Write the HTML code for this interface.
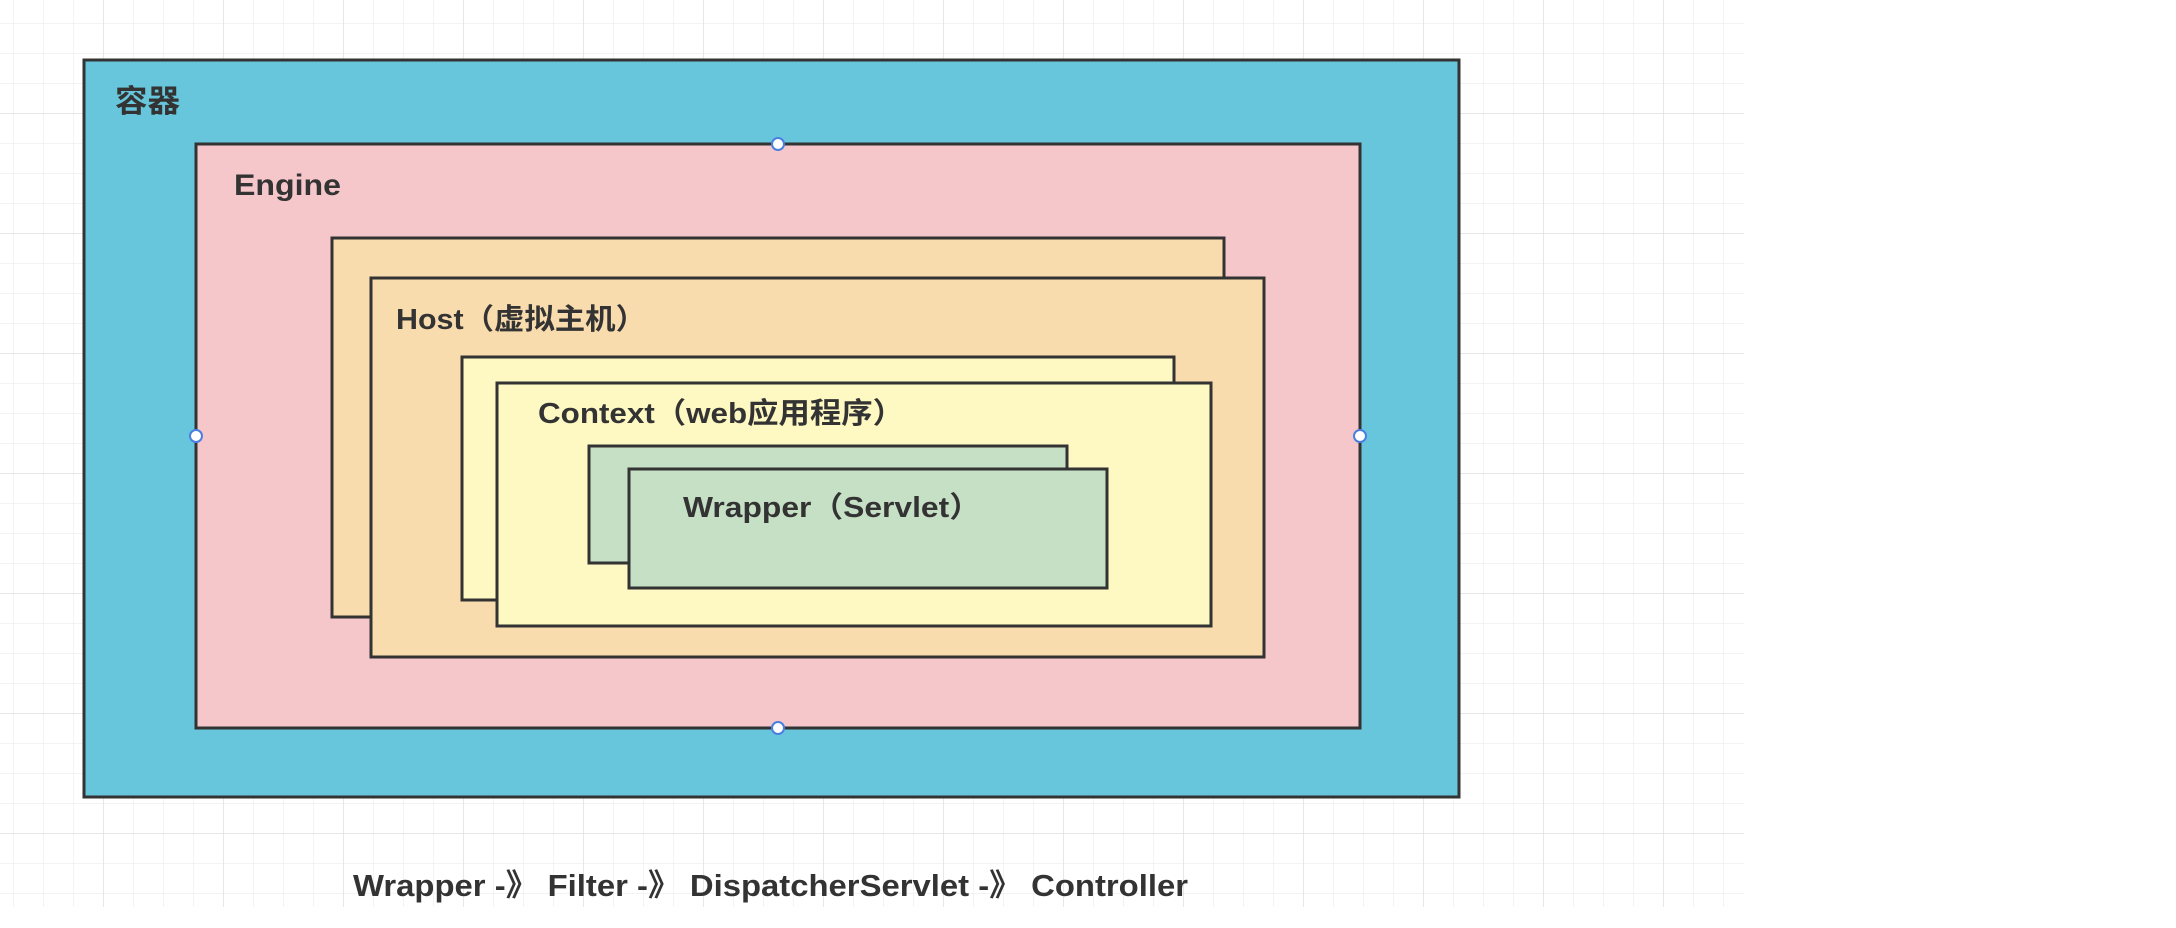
<!DOCTYPE html>
<html><head><meta charset="utf-8"><style>
html,body{margin:0;padding:0;background:#fff;}
svg{display:block;}
text{font-family:"Liberation Sans","Noto Sans CJK SC",sans-serif;font-weight:bold;fill:#333;}
</style></head><body>
<svg width="2176" height="928" viewBox="0 0 2176 928" xmlns="http://www.w3.org/2000/svg">
<defs>
<pattern id="minor" x="13" y="23" width="30" height="30" patternUnits="userSpaceOnUse">
<path d="M0 0V30M0 0H30" stroke="#efefef" stroke-width="1.5" fill="none"/>
</pattern>
<pattern id="major" x="103" y="113" width="120" height="120" patternUnits="userSpaceOnUse">
<path d="M0 0V120M0 0H120" stroke="#e2e2e2" stroke-width="1.5" fill="none"/>
</pattern>
</defs>
<rect x="0" y="0" width="1744" height="907" fill="url(#minor)"/>
<rect x="0" y="0" width="1744" height="907" fill="url(#major)"/>
<g stroke="#333" stroke-width="3">
<rect x="84" y="60" width="1375" height="737" fill="#67c6db"/>
<rect x="196" y="144" width="1164" height="584" fill="#f5c7cb"/>
<rect x="332" y="238" width="892" height="379" fill="#f8dcae"/>
<rect x="371" y="278" width="893" height="379" fill="#f8dcae"/>
<rect x="462" y="357" width="712" height="243" fill="#fef8c2"/>
<rect x="497" y="383" width="714" height="243" fill="#fef8c2"/>
<rect x="589" y="446" width="478" height="117" fill="#c6e0c6"/>
<rect x="629" y="469" width="478" height="119" fill="#c6e0c6"/>
</g>
<g fill="#fff" stroke="#4a7fe0" stroke-width="2">
<circle cx="778" cy="144" r="6"/>
<circle cx="778" cy="728" r="6"/>
<circle cx="196" cy="436" r="6"/>
<circle cx="1360" cy="436" r="6"/>
</g>
<text x="115" y="112" font-size="31" textLength="65" lengthAdjust="spacingAndGlyphs">容器</text>
<text x="234" y="195" font-size="30" textLength="107" lengthAdjust="spacingAndGlyphs">Engine</text>
<text x="396" y="329" font-size="29" textLength="250" lengthAdjust="spacingAndGlyphs">Host（虚拟主机）</text>
<text x="538" y="423" font-size="29" textLength="366" lengthAdjust="spacingAndGlyphs">Context（web应用程序）</text>
<text x="683" y="517" font-size="29" textLength="298" lengthAdjust="spacingAndGlyphs">Wrapper（Servlet）</text>
<text x="353" y="896" font-size="31" textLength="835" lengthAdjust="spacingAndGlyphs">Wrapper -》 Filter -》 DispatcherServlet -》 Controller</text>
</svg>
</body></html>
